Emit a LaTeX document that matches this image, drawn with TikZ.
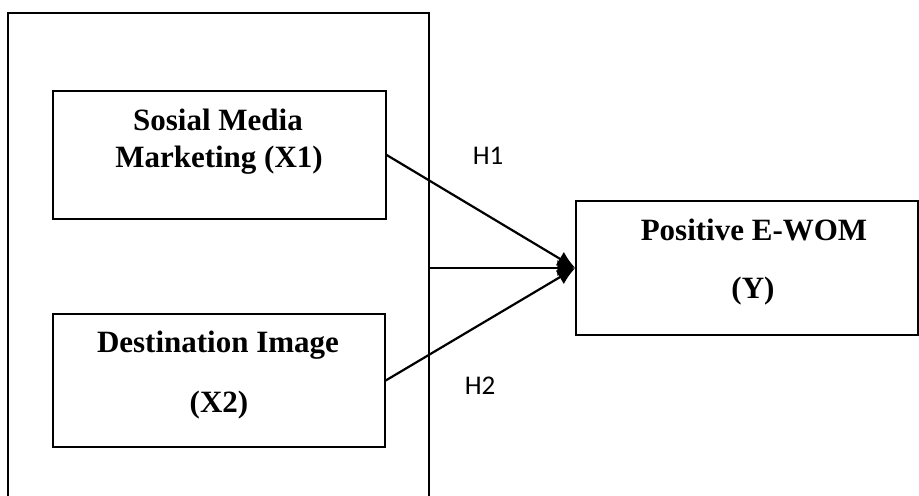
\documentclass[tikz,border=0pt]{standalone}
\usepackage{fontspec}
\setmainfont{Liberation Serif}
\newfontfamily\hfont{Carlito}
\usetikzlibrary{arrows.meta,positioning}
\tikzset{
  var/.style   = {rectangle, draw=black, line width=0.7pt, inner sep=0pt},
  frame/.style = {rectangle, draw=black, line width=1.1pt, inner sep=0pt,
                  minimum width=210.5pt, minimum height=253.5pt},
  txt/.style   = {anchor=base, inner sep=0pt, font=\fontsize{15.5}{18}\selectfont\bfseries},
  hyp/.style   = {inner sep=0pt, font=\hfont\fontsize{13.5}{16}\selectfont},
  ar/.style    = {-{Latex[length=9pt,width=8pt]}, line width=1.1pt},
}

\begin{document}
\begin{tikzpicture}[x=0.5pt,y=-0.5pt]
  \useasboundingbox (0,0) rectangle (919,495);
  \clip (0,0) rectangle (919,495);
  \node[frame] (grp) at (218.5,266.5) {};
  \node[var, minimum width=166.5pt, minimum height=64pt] (x1) at (219.5,155) {};
  \node[var, minimum width=166pt, minimum height=66.5pt] (x2) at (219,380.5) {};
  \node[var, minimum width=171pt, minimum height=67pt] (y) at (747,268) {};

  \node[txt] (x1a) at (218,130) {Sosial Media};
  \node[txt] (x1b) at (219,167) {Marketing (X1)};
  \node[txt] (x2a) at (218,352) {Destination Image};
  \node[txt] (x2b) at (219,412) {(X2)};
  \node[txt] (ya) at (754,240) {Positive E-WOM};
  \node[txt] (yb) at (753,298) {(Y)};

  \node[hyp] (h1) at (488,156) {H1};
  \node[hyp] (h2) at (480,386) {H2};

  \draw[ar] (x1.east) -- (y.west);
  \draw[ar] (x2.east) -- (y.west);
  \draw[ar] (grp.east |- y.west) -- (y.west);
\end{tikzpicture}
\end{document}
